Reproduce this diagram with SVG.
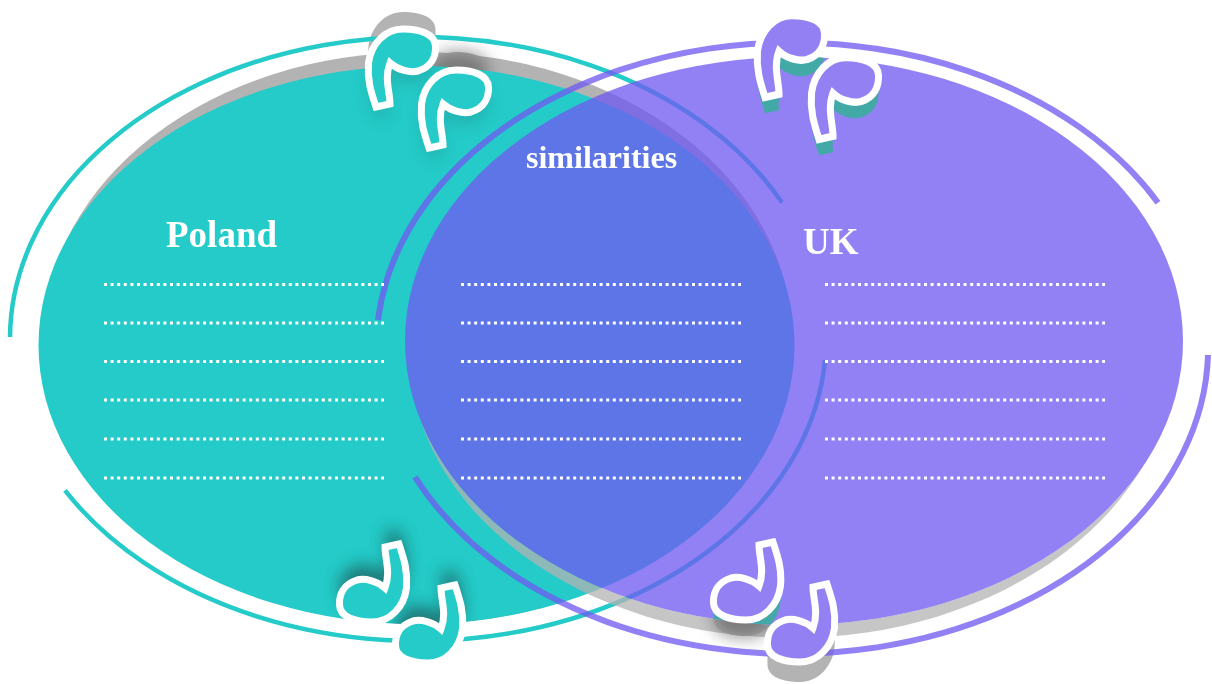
<svg xmlns="http://www.w3.org/2000/svg" width="1212" height="684" viewBox="0 0 1212 684">
<style>
.lbl{font-family:"Liberation Serif","Times New Roman",serif;font-weight:bold;fill:#fff}
.dots{stroke:#fff;stroke-width:3;stroke-dasharray:3 3.6;fill:none}
.teal{fill:#24CBC8;stroke:#fff;stroke-width:7;stroke-linejoin:miter}
.purp{fill:#9381F4;stroke:#fff;stroke-width:7;stroke-linejoin:miter}
.gray{fill:#b3b3b3}
.ext{fill:#43A9A7}
.sh{fill:#1d5f5e;opacity:.75;filter:url(#blur)}
.shg{fill:#555;opacity:.6;filter:url(#blur)}
</style>
<defs>
<filter id="blur" x="-50%" y="-50%" width="200%" height="200%"><feGaussianBlur stdDeviation="8"/></filter>
<path id="n" d="M376 107 L390 104 C390 92 384 78 390 63 C398 70 410 73 418 71 C431 67 436 57 435.500 46 C435 34 420 29 403 29 C385 29 371 44 368.500 63 C367 80 371 92 376 107 Z"/>
<clipPath id="pc"><ellipse cx="794" cy="341" rx="389" ry="284"/></clipPath>
<clipPath id="tc"><ellipse cx="416.500" cy="345" rx="378" ry="279"/></clipPath>
<mask id="outP" maskUnits="userSpaceOnUse" x="0" y="0" width="1212" height="684"><rect width="1212" height="684" fill="#fff"/><ellipse cx="794" cy="341" rx="389" ry="284" fill="#000"/></mask>
</defs>
<g id="teal-circle">
<ellipse cx="418" cy="338" rx="374" ry="286" class="gray"/>
<use href="#n" class="gray" transform="translate(0,-6)"/>
<use href="#n" class="gray" transform="translate(0,-12)"/>
<use href="#n" class="gray" transform="translate(0,-17)"/>
<use href="#n" class="gray" transform="translate(53,29)"/>
<use href="#n" class="gray" transform="translate(53,23)"/>
<use href="#n" class="shg" transform="translate(53,22)"/>
<ellipse cx="416.500" cy="345" rx="378" ry="279" fill="#24CBC8"/>
</g>
<g clip-path="url(#tc)">
<use href="#n" class="sh" style="opacity:.22" transform="translate(0,12)"/>
<use href="#n" class="sh" style="opacity:.22" transform="translate(53,53)"/>
<use href="#n" class="sh" transform="translate(775,636) scale(-1,-1)"/>
<use href="#n" class="sh" transform="translate(831,677) scale(-1,-1)"/>
</g>
<g id="connectors">
<path d="M10 337 A408 302 0 0 1 782 202.500 M65 490.400 A408 302 0 0 0 825 360" fill="none" stroke="#24CBC8" stroke-width="4.500"/>
</g>
<g id="purple-circle">
<g mask="url(#outP)">
<ellipse cx="792" cy="351" rx="383" ry="287" fill="#b3b3b3" fill-opacity=".75"/>
<use href="#n" class="gray" transform="translate(1149,665) scale(-1,-1)"/>
<use href="#n" class="gray" transform="translate(1203,699) scale(-1,-1)"/>
<use href="#n" class="gray" transform="translate(1203,705) scale(-1,-1)"/>
<use href="#n" class="gray" transform="translate(1203,711) scale(-1,-1)"/>
<use href="#n" class="shg" transform="translate(1149,667) scale(-1,-1)"/>
</g>
<ellipse cx="794" cy="341" rx="389" ry="284" fill="#7059F1" fill-opacity=".76"/>
<path d="M378 320 A416 306 0 0 1 1158 202.700 M1208 355 A416 306 0 0 1 415 477" fill="none" stroke="#7059F1" stroke-opacity=".76" stroke-width="6"/>
<g clip-path="url(#pc)">
<use href="#n" class="ext" transform="matrix(1 0 0 1.05 389 -7)"/>
<use href="#n" class="ext" transform="matrix(1 0 0 1.05 389 1)"/>
<use href="#n" class="ext" transform="matrix(1 0 0 1.05 443 35)"/>
<use href="#n" class="ext" transform="matrix(1 0 0 1.05 443 43)"/>
<use href="#n" class="ext" transform="translate(1149,657) scale(-1,-1)"/>
<use href="#n" class="ext" transform="translate(1149,665) scale(-1,-1)"/>
</g>
</g>
<g id="note-teal-1"><use href="#n" class="teal"/></g>
<g id="note-teal-2"><use href="#n" class="teal" transform="translate(53,41)"/></g>
<g id="note-teal-3"><use href="#n" class="teal" transform="translate(775,651) scale(-1,-1)"/></g>
<g id="note-teal-4"><use href="#n" class="teal" transform="translate(831,692) scale(-1,-1)"/></g>
<g id="note-purple-1"><use href="#n" class="purp" transform="matrix(1 0 0 1.05 389 -15)"/></g>
<g id="note-purple-2"><use href="#n" class="purp" transform="matrix(1 0 0 1.05 443 27)"/></g>
<g id="note-purple-3"><use href="#n" class="purp" transform="translate(1149,649) scale(-1,-1)"/></g>
<g id="note-purple-4"><use href="#n" class="purp" transform="translate(1203,691) scale(-1,-1)"/></g>
<g id="labels">
<text x="166" y="247" class="lbl" font-size="37">Poland</text>
<text x="803" y="254" class="lbl" font-size="37">UK</text>
<text x="526" y="168" class="lbl" font-size="32">similarities</text>
</g>
<g id="dotted-lines" class="dots">
<path d="M104 284.500H384M104 323H384M104 361.500H384M104 400H384M104 439H384M104 478H384"/>
<path d="M461 284.500H741M461 323H741M461 361.500H741M461 400H741M461 439H741M461 478H741"/>
<path d="M825 284.500H1105M825 323H1105M825 361.500H1105M825 400H1105M825 439H1105M825 478H1105"/>
</g>
</svg>
